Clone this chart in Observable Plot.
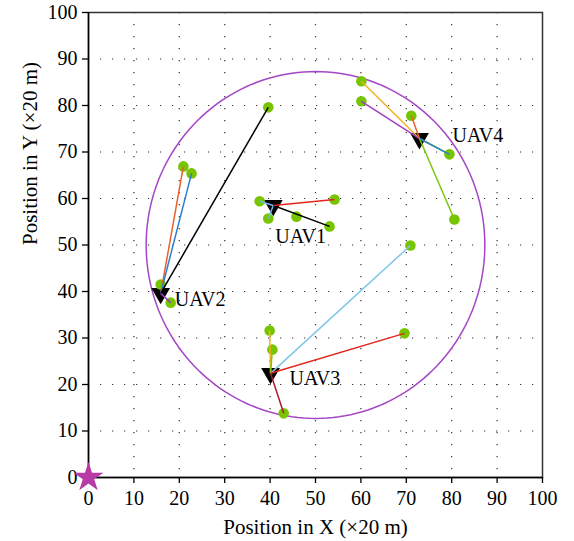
<!DOCTYPE html>
<html><head><meta charset="utf-8">
<script src="https://cdn.jsdelivr.net/npm/d3@7"></script>
<script src="https://cdn.jsdelivr.net/npm/@observablehq/plot@0.6"></script>
<style>body{margin:0;background:#fff;} #chart svg{display:block;}</style>
</head><body><div id="chart"></div>
<script>
// ---- data ----
const xTicks = [0,10,20,30,40,50,60,70,80,90,100];
const yTicks = [0,10,20,30,40,50,60,70,80,90,100];
const gridTicks = [10,20,30,40,50,60,70,80,90];
const xTitle = "Position in X (×20 m)";
const yTitle = "Position in Y (×20 m)";

const uavNames = ["UAV1","UAV2","UAV3","UAV4"];
const uavX = [40.7, 15.9, 40.1, 72.9];
const uavY = [58.5, 39.6, 22.4, 72.9];

const userUav = [0,0,0,0,0, 1,1,1,1,1, 2,2,2,2,2, 3,3,3,3,3];
const userX = [37.7,39.6,45.8,53.1,54.2, 20.9,22.7,15.9,18.1,39.6, 39.9,40.5,70.9,69.6,43.0, 60.1,60.1,71.1,79.5,80.6];
const userY = [59.4,55.7,56.1,54.0,59.8, 66.9,65.4,41.5,37.6,79.6, 31.6,27.5,49.9,31.0,13.8, 85.2,80.9,77.8,69.5,55.5];

const linkUser  = [0,1,3,4, 5,6,8,9, 10,11,12,13,14, 15,16,17,19,18,18];
const linkColor = ["#6cbde6","#6cbde6","#000000","#e2261c",
                   "#e8622a","#2e7ed0","#9b3fc0","#000000",
                   "#f0b41e","#7ac70c","#7fc6e8","#e2261c","#a51f2e",
                   "#f0b41e","#a23fc0","#e8622a","#7ac70c","#7ac70c","#2e7ed0"];

const baseStation = [{x: 0, y: 0}];
const coverageCenter = [50, 50];
const coverageRadius = 37.3;

// ---- build ----
const circlePts = d3.range(0, 361, 2).map(a => ({
  x: coverageCenter[0] + coverageRadius * Math.cos(a * Math.PI / 180),
  y: coverageCenter[1] + coverageRadius * Math.sin(a * Math.PI / 180)
}));
const users = userX.map((x, i) => ({x, y: userY[i], u: userUav[i]}));
const links = linkUser.map((ui, k) => ({
  x1: uavX[userUav[ui]], y1: uavY[userUav[ui]],
  x2: userX[ui], y2: userY[ui], c: linkColor[k]
}));
const uavs = uavNames.map((n, i) => ({name: n, x: uavX[i], y: uavY[i]}));
const labelOff = {UAV1: [2, 31], UAV2: [14, 6], UAV3: [19, 5], UAV4: [33, -3]};

const chart = Plot.plot({
  width: 574, height: 541,
  marginLeft: 88, marginRight: 32, marginTop: 12, marginBottom: 64,
  style: {fontFamily: "'Liberation Serif', serif", fontSize: "20px", color: "#000", background: "#fff"},
  x: {domain: [0, 100]},
  y: {domain: [0, 100]},
  color: {type: "identity"},
  marks: [
    Plot.gridX(gridTicks, {stroke: "#333", strokeOpacity: 1, strokeWidth: 1.2, strokeDasharray: "1.2,10.8"}),
    Plot.gridY(gridTicks, {stroke: "#333", strokeOpacity: 1, strokeWidth: 1.2, strokeDasharray: "1.2,10.8"}),
    Plot.frame({stroke: "#333", strokeWidth: 1.5}),
    Plot.ruleY([0], {stroke: "#000", strokeWidth: 1.5}),
    Plot.ruleX([0], {stroke: "#000", strokeWidth: 1.5}),
    Plot.axisX(xTicks, {tickSize: 6, tickPadding: 7, label: null, fontSize: 20, strokeWidth: 1.3}),
    Plot.axisY(yTicks, {tickSize: 6, tickPadding: 5, label: null, fontSize: 20, strokeWidth: 1.3}),
    Plot.line(circlePts, {x: "x", y: "y", stroke: "#a546c6", strokeWidth: 1.5}),
    Plot.dot(uavs, {x: "x", y: "y", symbol: "triangle", rotate: 180, r: 7, fill: "#000", stroke: "none"}),
    Plot.dot(users, {x: "x", y: "y", r: 5.3, fill: "#77c400", stroke: "none"}),
    Plot.link(links, {x1: "x1", y1: "y1", x2: "x2", y2: "y2", stroke: "c", strokeWidth: 1.5}),
    ...uavs.map(d => Plot.text([d], {x: "x", y: "y", text: "name", textAnchor: "start", lineAnchor: "middle",
      dx: labelOff[d.name][0], dy: labelOff[d.name][1], fontSize: 20, fill: "#000"})),
    Plot.dot(baseStation, {x: "x", y: "y", symbol: "star", r: 9.4, fill: "#b83aa6", stroke: "none"}),
    Plot.text([xTitle], {frameAnchor: "bottom", lineAnchor: "middle", dy: 50, fontSize: 21, fill: "#000"}),
    Plot.text([yTitle], {frameAnchor: "left", lineAnchor: "middle", dx: -58, rotate: -90, fontSize: 21, fill: "#000"})
  ]
});
document.getElementById("chart").appendChild(chart);
</script>
</body></html>
